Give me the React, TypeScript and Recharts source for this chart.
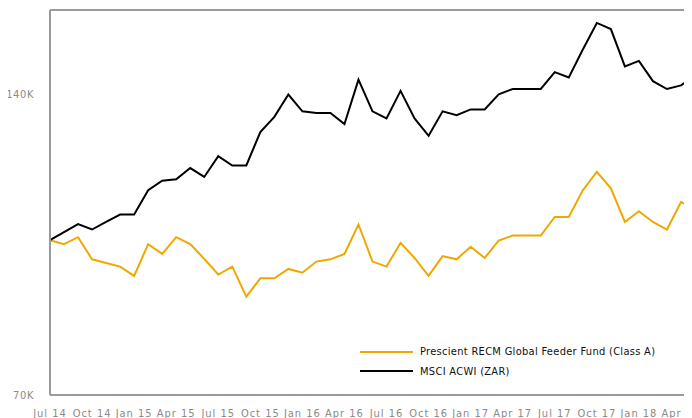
import React from "react";
import { LineChart, Line, XAxis, YAxis, ReferenceLine, Legend } from "recharts";

const months = [
  "Jul 14", "Aug 14", "Sep 14", "Oct 14", "Nov 14", "Dec 14",
  "Jan 15", "Feb 15", "Mar 15", "Apr 15", "May 15", "Jun 15",
  "Jul 15", "Aug 15", "Sep 15", "Oct 15", "Nov 15", "Dec 15",
  "Jan 16", "Feb 16", "Mar 16", "Apr 16", "May 16", "Jun 16",
  "Jul 16", "Aug 16", "Sep 16", "Oct 16", "Nov 16", "Dec 16",
  "Jan 17", "Feb 17", "Mar 17", "Apr 17", "May 17", "Jun 17",
  "Jul 17", "Aug 17", "Sep 17", "Oct 17", "Nov 17", "Dec 17",
  "Jan 18", "Feb 18", "Mar 18", "Apr 18", "May 18",
];

const fundValues = [
  100.0, 99.1, 100.7, 95.7, 94.9, 94.1, 92.1, 99.1, 96.9, 100.7,
  99.1, 95.8, 92.4, 94.1, 87.8, 91.6, 91.6, 93.6, 92.8, 95.2,
  95.7, 96.9, 103.7, 95.2, 94.1, 99.4, 96.0, 92.1, 96.4, 95.7,
  98.5, 96.0, 99.9, 101.1, 101.1, 101.1, 105.5, 105.5, 112.2, 117.1,
  112.7, 104.3, 106.9, 104.3, 102.5, 109.2, 107.7,
];

const msciValues = [
  100.0, 101.9, 103.8, 102.5, 104.3, 106.1, 106.1, 112.2, 114.7, 115.1,
  118.1, 115.7, 121.4, 118.8, 118.8, 128.3, 132.9, 139.9, 134.6, 134.1,
  134.1, 130.7, 144.8, 134.6, 132.4, 141.1, 132.4, 127.2, 134.6, 133.4,
  135.2, 135.2, 140.0, 141.7, 141.7, 141.7, 147.3, 145.5, 155.2, 165.0,
  162.7, 149.3, 151.2, 144.3, 141.7, 142.9, 146.3,
];

const yTicks = [70000, 140000];
const yTickLabels: Record<number, string> = { 70000: "70K", 140000: "140K" };

const fundName = "Prescient RECM Global Feeder Fund (Class A)";
const msciName = "MSCI ACWI (ZAR)";

const data = months.map((m, i) => ({
  month: m,
  fund: fundValues[i] * 1000,
  msci: msciValues[i] * 1000,
}));

const FONT = "'DejaVu Sans', sans-serif";
const GOLD = "#F0A800";
const AXIS = "#9a9a9a";

const renderLegend = () => {
  const items = [
    { name: fundName, color: GOLD },
    { name: msciName, color: "#000000" },
  ];
  return (
    <div style={{ fontFamily: FONT, fontStretch: "condensed", fontSize: 11, color: "#111", letterSpacing: 0.3 }}>
      {items.map((it) => (
        <div key={it.name} style={{ display: "flex", alignItems: "center", height: 19.5 }}>
          <svg width={60} height={4} style={{ display: "block" }}>
            <line x1={0} y1={2} x2={53} y2={2} stroke={it.color} strokeWidth={2} />
          </svg>
          <span style={{ whiteSpace: "nowrap" }}>{it.name}</span>
        </div>
      ))}
    </div>
  );
};

const xTickStyle = { fill: "#8a8a8a", fontSize: 11, fontFamily: FONT, fontStretch: "condensed", letterSpacing: 1 };
const yTickStyle = { fill: "#8a8a8a", fontSize: 11, fontFamily: FONT, fontStretch: "condensed", letterSpacing: 0.6 };

export default function App() {
  return (
    <div style={{ width: 684, height: 410, overflow: "hidden", position: "relative" }}>
      <LineChart
        width={700}
        height={410}
        data={data}
        margin={{ top: 2, right: 13, bottom: 0, left: 0 }}
      >
        <XAxis
          dataKey="month"
          interval={2}
          height={23}
          tickLine={false}
          tickSize={0}
          tickMargin={14}
          axisLine={{ stroke: AXIS, strokeWidth: 2 }}
          tick={xTickStyle}
        />
        <YAxis
          scale="log"
          domain={[70000, 170000]}
          allowDataOverflow
          ticks={yTicks}
          width={42}
          tickLine={false}
          tickSize={0}
          tickMargin={16}
          axisLine={{ stroke: AXIS, strokeWidth: 2 }}
          tickFormatter={(v: number) => yTickLabels[v] ?? ""}
          tick={yTickStyle}
        />
        <ReferenceLine y={170000} stroke={AXIS} strokeWidth={2} ifOverflow="extendDomain" />
        <Line
          type="linear"
          dataKey="fund"
          name={fundName}
          stroke={GOLD}
          strokeWidth={2}
          dot={false}
          isAnimationActive={false}
        />
        <Line
          type="linear"
          dataKey="msci"
          name={msciName}
          stroke="#000000"
          strokeWidth={2}
          dot={false}
          isAnimationActive={false}
        />
        <Legend
          layout="horizontal"
          verticalAlign="middle"
          align="center"
          content={renderLegend}
          wrapperStyle={{ left: 352, top: 334, width: 340, height: 40 }}
        />
      </LineChart>
    </div>
  );
}
